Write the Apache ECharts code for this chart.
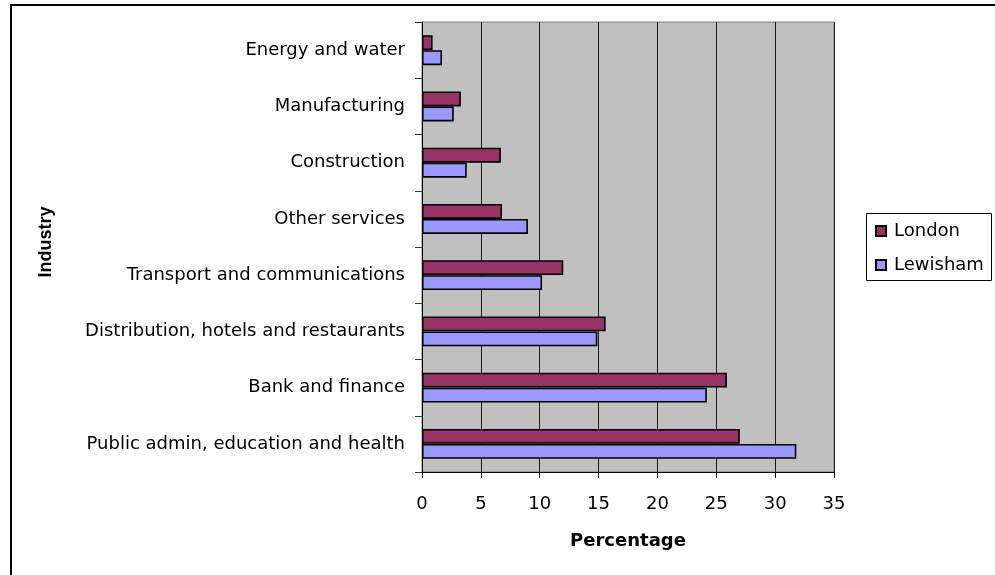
<!DOCTYPE html>
<html>
<head>
<meta charset="utf-8">
<script src="https://cdn.jsdelivr.net/npm/echarts@6/dist/echarts.min.js"></script>
<style>html,body{margin:0;padding:0;background:#fff}#c{width:995px;height:575px}</style>
</head>
<body>
<div id="c"></div>
<script>
const categories = ["Energy and water","Manufacturing","Construction","Other services","Transport and communications","Distribution, hotels and restaurants","Bank and finance","Public admin, education and health"];
const seriesNames = ["London","Lewisham"];
const london = [0.9, 3.3, 6.7, 6.8, 12.0, 15.6, 25.9, 27.0];
const lewisham = [1.7, 2.7, 3.8, 9.0, 10.2, 14.9, 24.2, 31.8];
const xTicks = [0,5,10,15,20,25,30,35];

const FONT = "DejaVu Sans";
const chart = echarts.init(document.getElementById('c'), null, {renderer:'canvas'});
chart.setOption({
  animation:false,
  backgroundColor:'#ffffff',
  grid:{left:422, top:22, width:412, height:450, show:true, backgroundColor:'#C0C0C0', borderColor:'#808080', borderWidth:1},
  xAxis:{
    type:'value', min:xTicks[0], max:xTicks[xTicks.length-1], interval:5,
    name:'Percentage', nameLocation:'middle', nameGap:60,
    nameTextStyle:{fontFamily:FONT, fontSize:18, fontWeight:'bold', color:'#000'},
    axisLine:{show:true, lineStyle:{color:'#000', width:1}},
    axisTick:{show:true, length:6, lineStyle:{color:'#000'}},
    axisLabel:{fontFamily:FONT, fontSize:18, color:'#000', margin:23},
    splitLine:{show:true, lineStyle:{color:'#1a1a1a', width:1}}
  },
  yAxis:{
    type:'category', data:categories, inverse:true,
    axisLine:{show:true, lineStyle:{color:'#000', width:1}},
    axisTick:{show:true, length:7, lineStyle:{color:'#333'}},
    axisLabel:{fontFamily:FONT, fontSize:18, color:'#000', margin:17},
    splitLine:{show:false}
  },
  legend:{
    orient:'vertical', left:867, top:213,
    padding:[9,8,7,8], itemGap:16, itemWidth:10, itemHeight:10,
    icon:'rect',
    textStyle:{fontFamily:FONT, fontSize:18, color:'#000', padding:[0,0,0,3]},
    data:seriesNames
  },
  series:[
    {name:seriesNames[0], type:'bar', data:london, barWidth:15, barGap:'0%',
     itemStyle:{color:'#993366', borderColor:'#000', borderWidth:1.6}},
    {name:seriesNames[1], type:'bar', data:lewisham, barWidth:15, barGap:'0%',
     itemStyle:{color:'#9999FF', borderColor:'#000', borderWidth:1.6}}
  ],
  graphic:[
    {type:'rect', shape:{x:11, y:5, width:1000, height:600}, style:{fill:'none', stroke:'#000', lineWidth:2}, silent:true, z:-1},
    {type:'rect', shape:{x:866.5, y:213.5, width:125, height:67}, style:{fill:'none', stroke:'#000', lineWidth:1}, silent:true},
    {type:'text', x:46.5, y:242, rotation:Math.PI/2,
     style:{text:'Industry', font:'bold 18px "Liberation Sans"', fill:'#000', textAlign:'center', textVerticalAlign:'middle'}}
  ]
});
</script>
</body>
</html>
